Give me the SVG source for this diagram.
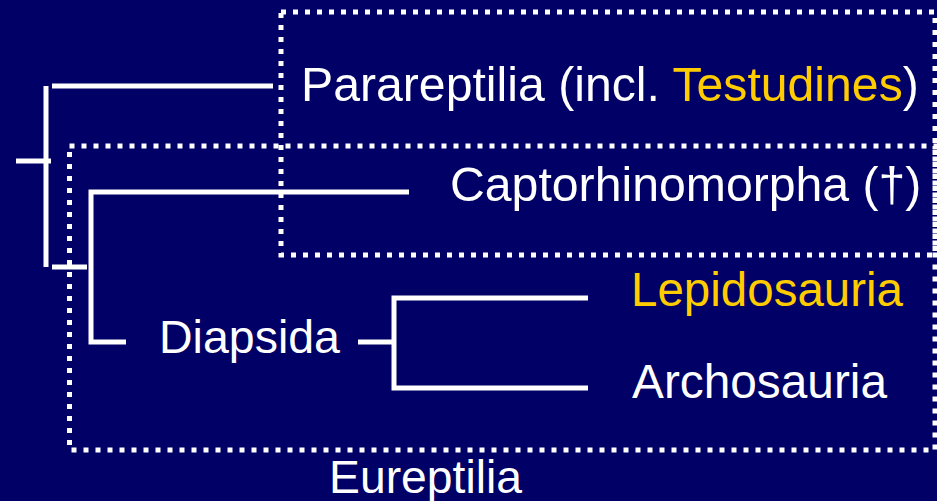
<svg xmlns="http://www.w3.org/2000/svg" width="937" height="501" viewBox="0 0 937 501">
<style>
.t{font-family:"Liberation Sans",Arial,sans-serif;font-size:46px;fill:#fff}
.y{fill:#ffcc00}
.br{stroke:#fff;stroke-width:5;fill:none}
.box{stroke:#fff;stroke-width:5;fill:none;stroke-dasharray:5 7}
</style>
<rect width="937" height="501" fill="#000066"/>
<g id="boxes">
<rect id="box-parareptilia" class="box" x="281" y="12" width="654" height="243"/>
<rect id="box-eureptilia" class="box" x="69.5" y="146" width="865.5" height="304"/>
</g>
<g id="connectors">
<line class="br" x1="16" y1="161" x2="51" y2="161"/>
<line class="br" x1="46" y1="86" x2="46" y2="267"/>
<line class="br" x1="52" y1="86" x2="273" y2="86"/>
<line class="br" x1="52" y1="267" x2="87" y2="267"/>
<polyline class="br" points="409,192 91,192 91,342 126,342"/>
<line class="br" x1="358" y1="342" x2="392" y2="342"/>
<polyline class="br" points="588,298 394,298 394,388 588,388"/>
</g>
<g id="node-parareptilia"><text class="t" x="301" y="101" style="font-size:48.2px">Parareptilia (incl. <tspan class="y">Testudines</tspan>)</text></g>
<g id="node-captorhinomorpha"><text class="t" x="450" y="201" style="font-size:48.2px">Captorhinomorpha (†)</text></g>
<g id="node-lepidosauria"><text class="t y" x="631" y="306" style="font-size:47.5px">Lepidosauria</text></g>
<g id="node-diapsida"><text class="t" x="159" y="353" style="font-size:46.5px">Diapsida</text></g>
<g id="node-archosauria"><text class="t" x="632" y="398" style="font-size:47.8px">Archosauria</text></g>
<g id="node-eureptilia"><text class="t" x="329" y="493" style="font-size:46.3px">Eureptilia</text></g>
</svg>
